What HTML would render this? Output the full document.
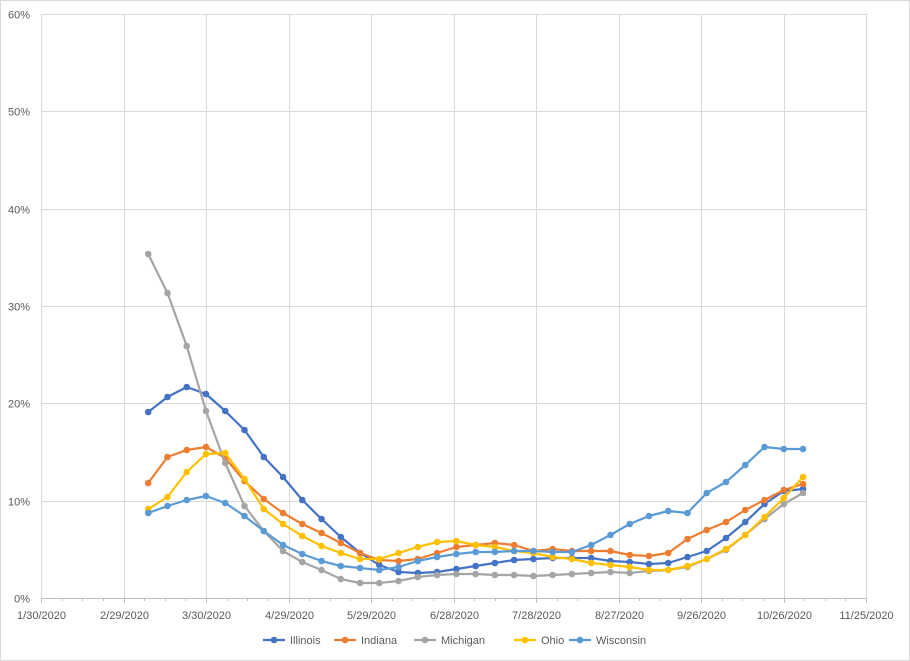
<!DOCTYPE html>
<html><head><meta charset="utf-8"><style>
body{margin:0;background:#fff}
svg{display:block;font-family:"Liberation Sans",sans-serif}
</style></head><body>
<svg id="c" width="910" height="661" viewBox="0 0 910 661" xmlns="http://www.w3.org/2000/svg">
<rect x="0.5" y="0.5" width="909" height="660" fill="#fff" stroke="#d9d9d9"/>
<g id="grid" stroke="#d9d9d9" stroke-width="1"></g>
<g id="lbl" font-size="11" fill="#595959"></g>
<g id="series"></g>
<g id="legend" font-size="11" fill="#595959"></g>
</svg>
<script>
const NS="http://www.w3.org/2000/svg";
function el(t,a,p,txt){const e=document.createElementNS(NS,t);for(const k in a)e.setAttribute(k,a[k]);if(txt!==undefined)e.textContent=txt;p.appendChild(e);return e;}
const g=document.getElementById('grid'),l=document.getElementById('lbl'),s=document.getElementById('series'),lg=document.getElementById('legend');
const x0=41,x1=866,y0=598,yT=14;
for(let k=0;k<=6;k++){const y=Math.round(y0-(y0-yT)*k/6)+0.5;
 if(k>0)el('line',{x1:x0,x2:x1,y1:y,y2:y},g);
 el('text',{x:30,y:y+4,'text-anchor':'end'},l,(k*10)+'%');}
const dates=['1/30/2020','2/29/2020','3/30/2020','4/29/2020','5/29/2020','6/28/2020','7/28/2020','8/27/2020','9/26/2020','10/26/2020','11/25/2020'];
for(let i=0;i<=10;i++){const x=Math.round(x0+(x1-x0)*i/10)+0.5;
 el('line',{x1:x,x2:x,y1:yT,y2:y0},g);
 el('line',{x1:x,x2:x,y1:y0,y2:y0+5,stroke:'#bfbfbf'},g);
 el('text',{x:x,y:619,'text-anchor':'middle'},l,dates[i]);}
for(let d=0;d<=300;d+=7.5){const x=Math.round(x0+(x1-x0)*d/300)+0.5;el('line',{x1:x,x2:x,y1:y0,y2:y0+3,stroke:'#bfbfbf'},g);}
el('line',{x1:x0,x2:x1,y1:y0+0.5,y2:y0+0.5,stroke:'#bfbfbf'},g);
const X=i=>148.2+19.26*i;
const data=[
['Illinois','#4472C4',[412,397,387,394,411,430,457,477,500,519,537,553,565,572,573,572,569,566,563,560,559,558,558,558,561,562,564,563,557,551,538,522,504,491,489]],
['Indiana','#ED7D31',[483,457,450,447,458,481,499,513,524,533,543,553,560,561,559,553,547,545,543,545,551,549,551,551,551,555,556,553,539,530,522,510,500,490,484]],
['Michigan','#A5A5A5',[254,293,346,411,463,506,531,551,562,570,579,583,583,581,577,575,574,574,575,575,576,575,574,573,572,573,571,570,567,559,550,535,519,504,493]],
['Ohio','#FFC000',[509,497,472,454,453,479,509,524,536,546,553,559,559,553,547,542,541,545,547,551,553,557,559,563,565,567,570,570,566,559,549,535,517,498,477]],
['Wisconsin','#5B9BD5',[513,506,500,496,503,516,531,545,554,561,566,568,570,567,561,557,554,552,552,551,551,552,552,545,535,524,516,511,513,493,482,465,447,449,449]]];
data.forEach(([n,c,v])=>{
 el('polyline',{points:v.map((y,i)=>X(i).toFixed(1)+','+y).join(' '),fill:'none',stroke:c,'stroke-width':2.2,'stroke-linejoin':'round'},s);
 v.forEach((y,i)=>el('circle',{cx:X(i),cy:y,r:3.3,fill:c},s));
});
const lx=[263,334,414,514,569];
data.forEach(([n,c],i)=>{const x=lx[i];
 el('line',{x1:x,x2:x+22,y1:640,y2:640,stroke:c,'stroke-width':2.2},lg);
 el('circle',{cx:x+11,cy:640,r:3.3,fill:c},lg);
 el('text',{x:x+27,y:644},lg,n);});
</script>
</body></html>
